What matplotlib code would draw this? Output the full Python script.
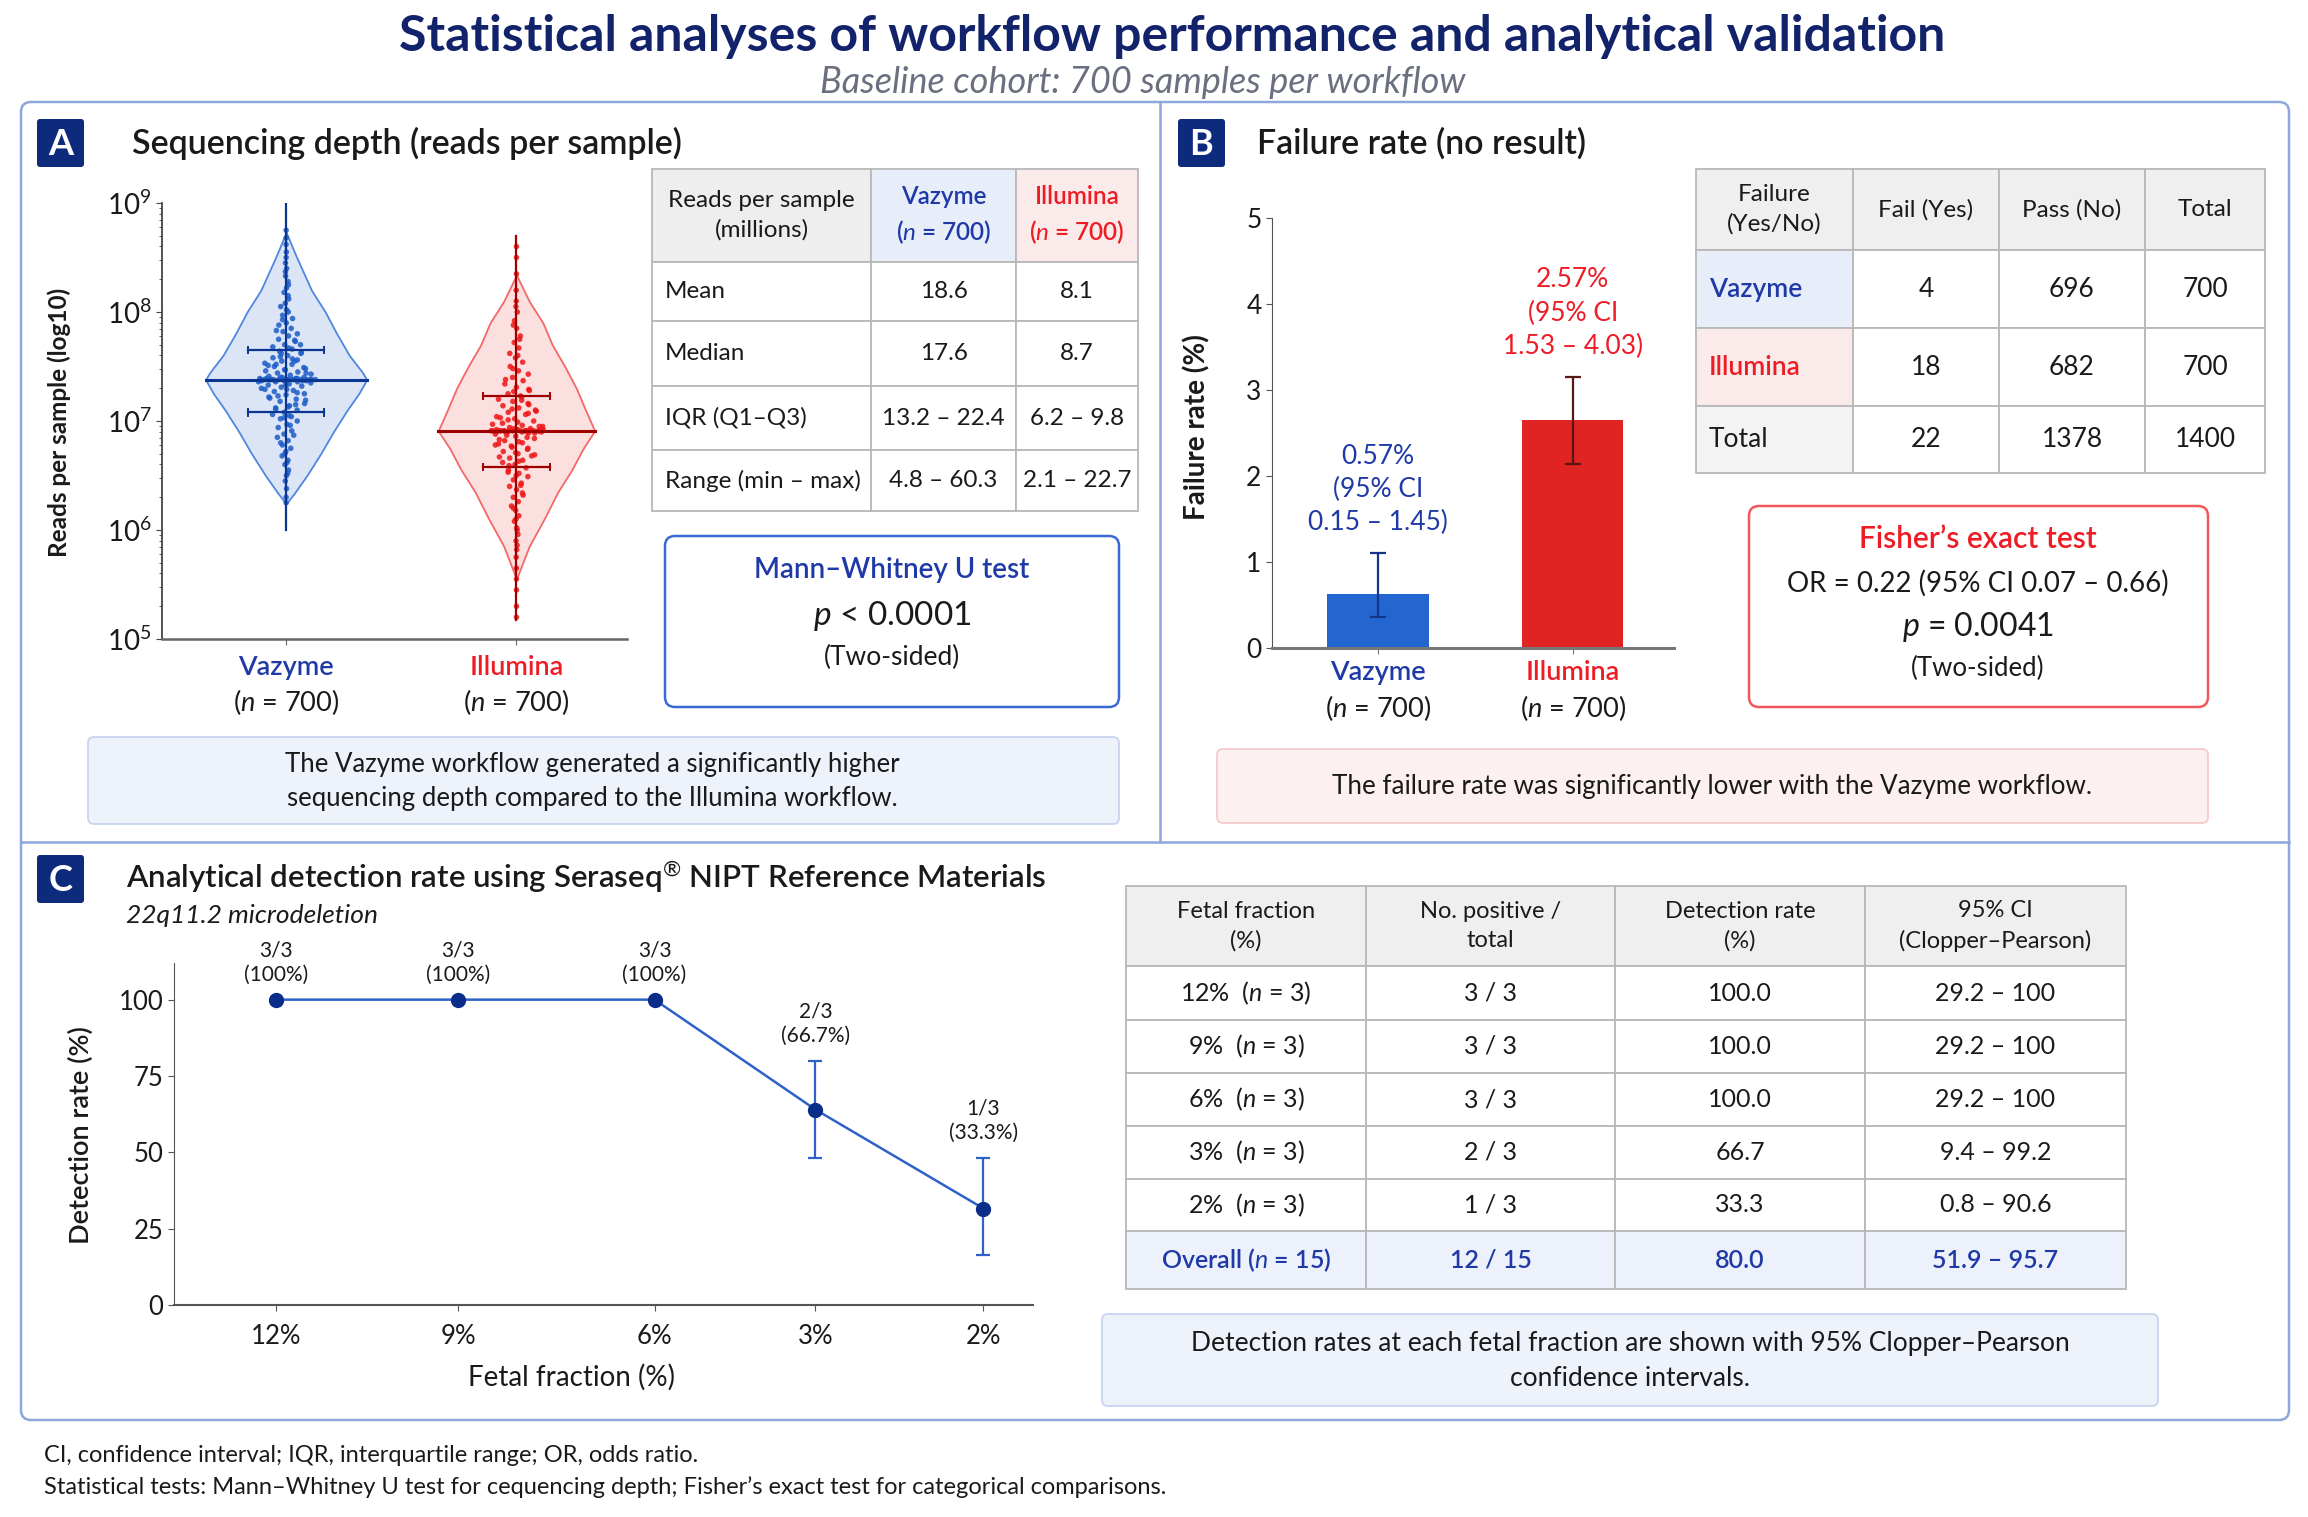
import numpy as np
import matplotlib
matplotlib.use("Agg")
import matplotlib.pyplot as plt
from matplotlib.patches import FancyBboxPatch, Rectangle
from matplotlib.ticker import LogLocator, NullFormatter

plt.rcParams['font.family'] = ['Lato', 'DejaVu Sans']
plt.rcParams['mathtext.fontset'] = 'custom'
plt.rcParams['mathtext.rm'] = 'Lato'
plt.rcParams['mathtext.it'] = 'Lato:italic'
plt.rcParams['mathtext.bf'] = 'Lato:bold'

# ---------------- DATA ----------------
groups = ["Vazyme", "Illumina"]
n_per_group = [700, 700]

# Panel A (log10 reads per sample)
median_log = [7.38, 6.91]
q1_log = [7.08, 6.58]
q3_log = [7.65, 7.23]
whisk_lo_log = [6.0, 5.17]
whisk_hi_log = [9.0, 8.70]
vaz_prof_log = [6.24, 6.35, 6.5, 6.7, 6.9, 7.1, 7.25, 7.38, 7.45, 7.6, 7.8, 8.0, 8.2, 8.5, 8.73]
vaz_prof_hw = [0.0, 0.04, 0.09, 0.15, 0.205, 0.265, 0.315, 0.35, 0.33, 0.275, 0.22, 0.17, 0.11, 0.046, 0.0]
ill_prof_log = [5.55, 5.85, 6.1, 6.35, 6.55, 6.75, 6.91, 7.1, 7.3, 7.5, 7.7, 7.9, 8.1, 8.34]
ill_prof_hw = [0.0, 0.055, 0.12, 0.18, 0.24, 0.29, 0.34, 0.30, 0.26, 0.21, 0.155, 0.115, 0.055, 0.0]
vaz_points_log = [8.75, 8.68, 8.62, 8.55, 8.5, 8.45, 8.4, 8.33, 8.28, 8.22, 8.18, 8.12, 8.08, 8.05,
                  8.0, 7.97, 7.94, 7.9, 7.88, 7.85, 7.82, 7.8, 7.78, 7.75, 7.73, 7.7, 7.68, 7.66,
                  7.64, 7.62, 7.6, 7.58, 7.56, 7.55, 7.53, 7.52, 7.5, 7.49, 7.47, 7.46, 7.45, 7.44,
                  7.43, 7.42, 7.41, 7.40, 7.40, 7.39, 7.39, 7.38, 7.38, 7.38, 7.38, 7.38, 7.38, 7.38,
                  7.38, 7.38, 7.37, 7.37, 7.37, 7.36, 7.36, 7.35, 7.34, 7.33, 7.32, 7.31, 7.3, 7.28,
                  7.27, 7.25, 7.24, 7.22, 7.2, 7.18, 7.16, 7.14, 7.12, 7.1, 7.08, 7.06, 7.04, 7.02,
                  7.0, 6.97, 6.94, 6.91, 6.88, 6.85, 6.82, 6.78, 6.75, 6.72, 6.68, 6.64, 6.6, 6.55,
                  6.5, 6.45, 6.38, 6.3, 6.25, 7.57, 7.52, 7.48, 7.29, 7.21, 7.15, 7.62, 7.7, 7.05,
                  7.38, 7.38, 7.38, 7.38, 7.39, 7.37, 7.38, 7.38, 7.39, 7.37, 7.40, 7.36, 7.38, 7.38,
                  7.44, 7.33, 7.51, 7.26, 7.59, 7.19, 7.67, 7.11, 7.74, 7.03, 7.83, 6.96, 7.93, 6.87,
                  8.02, 6.8, 8.15, 6.7, 8.25, 6.62, 8.37, 6.52, 7.47, 7.29, 7.55, 7.23, 7.63, 7.13]
ill_points_log = [5.2, 5.3, 5.45, 5.55, 5.65, 5.75, 5.82, 5.9, 5.96, 6.02, 6.08, 6.13, 6.18, 6.22,
                  6.26, 6.3, 6.34, 6.37, 6.4, 6.43, 6.46, 6.49, 6.52, 6.55, 6.57, 6.6, 6.62, 6.64,
                  6.66, 6.68, 6.7, 6.72, 6.74, 6.76, 6.78, 6.8, 6.82, 6.84, 6.86, 6.88, 6.89, 6.9,
                  6.9, 6.91, 6.91, 6.91, 6.91, 6.91, 6.91, 6.91, 6.91, 6.92, 6.92, 6.93, 6.94, 6.95,
                  6.96, 6.98, 7.0, 7.02, 7.04, 7.06, 7.08, 7.1, 7.12, 7.14, 7.16, 7.18, 7.2, 7.22,
                  7.25, 7.28, 7.31, 7.34, 7.37, 7.4, 7.43, 7.46, 7.5, 7.54, 7.58, 7.62, 7.67, 7.72,
                  7.78, 7.85, 7.92, 8.0, 8.1, 8.2, 8.35, 8.5, 8.6, 6.71, 6.79, 6.85, 7.01, 7.09,
                  6.63, 6.53, 7.15, 7.27, 6.97, 6.91, 6.91, 6.91, 6.92, 6.90, 6.91, 6.91, 6.92, 6.90,
                  6.91, 6.89, 6.93, 6.91, 6.91, 6.87, 6.95, 6.81, 7.03, 6.75, 7.11, 6.67, 7.19, 6.59,
                  7.29, 6.5, 7.38, 6.41, 7.48, 6.32, 7.6, 6.2, 7.75, 6.1, 7.88, 6.0, 8.05, 5.86,
                  6.99, 6.83, 7.07, 6.77, 6.69, 7.23]
stat_names = ["Mean", "Median", "IQR (Q1\u2013Q3)", "Range (min \u2013 max)"]
vaz_stats = ["18.6", "17.6", "13.2 \u2013 22.4", "4.8 \u2013 60.3"]
ill_stats = ["8.1", "8.7", "6.2 \u2013 9.8", "2.1 \u2013 22.7"]

# Panel B
fail_counts = [4, 18]
pass_counts = [696, 682]
fail_rate_plot = [0.63, 2.65]
fail_ci_lo = [0.36, 2.14]
fail_ci_hi = [1.10, 3.15]
fail_pct_txt = ["0.57%", "2.57%"]
fail_ci_txt = ["0.15 \u2013 1.45", "1.53 \u2013 4.03"]

# Panel C
ff_labels = ["12%", "9%", "6%", "3%", "2%"]
n_pos = [3, 3, 3, 2, 1]
n_tot = [3, 3, 3, 3, 3]
det_rate_txt = ["100.0", "100.0", "100.0", "66.7", "33.3"]
det_label_pct = ["100%", "100%", "100%", "66.7%", "33.3%"]
ci_txt = ["29.2 \u2013 100", "29.2 \u2013 100", "29.2 \u2013 100", "9.4 \u2013 99.2", "0.8 \u2013 90.6"]
det_rate_plot = [100, 100, 100, 64.0, 31.6]
det_ci_lo_plot = [100, 100, 100, 48.2, 16.4]
det_ci_hi_plot = [100, 100, 100, 80.0, 48.2]
overall_row = ["Overall ($\\it{n}$ = 15)", "12 / 15", "80.0", "51.9 \u2013 95.7"]

# ---------------- STYLE ----------------
NAVY = '#12236b'
BLUE_T = '#1f3aa6'
RED_T = '#ee1c25'
FRAME = '#8ea7dc'
DARK = '#1a1a1a'
W, H = 2308, 1517

fig = plt.figure(figsize=(W / 100, H / 100), dpi=100)
fig.patch.set_facecolor('white')
bg = fig.add_axes([0, 0, 1, 1])
bg.set_xlim(0, W)
bg.set_ylim(H, 0)
bg.axis('off')


def px_axes(l, t, r, b):
    return fig.add_axes([l / W, 1 - b / H, (r - l) / W, (b - t) / H])


def rbox(x0, y0, x1, y1, fc, ec, lw=1.5, r=10, z=1):
    bg.add_patch(FancyBboxPatch((x0, y0), x1 - x0, y1 - y0,
                                boxstyle=f"round,pad=0,rounding_size={r}",
                                facecolor=fc, edgecolor=ec, lw=lw, zorder=z))


def table(xs, ys, cells, fills, colors, weights, aligns, fs, hfs):
    for r in range(len(ys) - 1):
        for c in range(len(xs) - 1):
            bg.add_patch(Rectangle((xs[c], ys[r]), xs[c + 1] - xs[c], ys[r + 1] - ys[r],
                                   facecolor=fills[r][c], edgecolor='#b8b8b8', lw=1.3, zorder=2))
            ha = aligns[r][c]
            x = (xs[c] + xs[c + 1]) / 2 if ha == 'center' else xs[c] + 13
            bg.text(x, (ys[r] + ys[r + 1]) / 2, cells[r][c], ha=ha, va='center',
                    color=colors[r][c], fontsize=hfs if r == 0 else fs, fontweight=weights[r][c],
                    linespacing=1.45, zorder=3)


# ---------------- HEADER ----------------
bg.text(1172, 36, "Statistical analyses of workflow performance and analytical validation",
        ha='center', va='center', fontsize=36, fontweight='bold', color=NAVY)
bg.text(1143, 82, "Baseline cohort: 700 samples per workflow", ha='center', va='center',
        fontsize=26, style='italic', color='#6b7080')

# frame
rbox(21, 102, 2289, 1420, 'white', FRAME, lw=1.8, r=10, z=0)
bg.plot([1160, 1160], [102, 842], color=FRAME, lw=1.8, zorder=1)
bg.plot([21, 2289], [842, 842], color=FRAME, lw=1.8, zorder=1)

# panel letters
for (x0, y0, letter) in [(37, 119, "A"), (1178, 119, "B"), (37, 855, "C")]:
    bg.add_patch(FancyBboxPatch((x0, y0), 47, 48, boxstyle="round,pad=0,rounding_size=3",
                                facecolor='#0d2a7d', edgecolor='none', zorder=2))
    bg.text(x0 + 23.5, y0 + 25, letter, ha='center', va='center', color='white',
            fontsize=26, fontweight='bold', zorder=3)

bg.text(132, 143, "Sequencing depth (reads per sample)", ha='left', va='center',
        fontsize=24.5, fontweight='semibold', color=DARK)
bg.text(1257, 143, "Failure rate (no result)", ha='left', va='center',
        fontsize=24.5, fontweight='semibold', color=DARK)
bg.text(126, 877, "Analytical detection rate using Seraseq$^{\u00ae}$ NIPT Reference Materials",
        ha='left', va='center', fontsize=22.5, fontweight='semibold', color=DARK)
bg.text(126, 915, "22q11.2 microdeletion", ha='left', va='center', fontsize=19,
        style='italic', color=DARK)

# ---------------- PANEL A ----------------
axA = px_axes(162, 203, 627, 639)
axA.set_yscale('log')
axA.set_ylim(1e5, 1e9)
axA.set_xlim(-0.539, 1.48)
profiles = [(vaz_prof_log, vaz_prof_hw), (ill_prof_log, ill_prof_hw)]
points = [vaz_points_log, ill_points_log]
fills = ['#d7e3f6', '#fcdcdc']
edges = ['#3f7bdc', '#f25a5a']
pcols = ['#1d5cc8', '#ee1515']
lcols = ['#0a3590', '#9e0000']
iqr_hw = [0.165, 0.145]
for i in range(2):
    pl, ph = profiles[i]
    yy = np.linspace(pl[0], pl[-1], 200)
    hw = np.interp(yy, pl, ph)
    axA.fill_betweenx(10 ** yy, i - hw, i + hw, facecolor=fills[i], edgecolor=edges[i],
                      lw=1.3, alpha=0.9, zorder=1)
    vals = np.array(points[i])
    hwp = np.interp(vals, pl, ph)
    u = ((np.arange(len(vals)) * 0.6180339887) % 1.0) * 2 - 1
    axA.scatter(i + u * hwp ** 2 * 1.05, 10 ** vals, s=16, color=pcols[i], alpha=0.85,
                edgecolors='none', zorder=3)
    axA.plot([i, i], [10 ** whisk_lo_log[i], 10 ** whisk_hi_log[i]], color=lcols[i], lw=1.6, zorder=4)
    mh = np.interp(median_log[i], pl, ph)
    axA.plot([i - mh, i + mh], [10 ** median_log[i]] * 2, color=lcols[i], lw=2.2, zorder=4)
    for q in (q1_log[i], q3_log[i]):
        axA.plot([i - iqr_hw[i], i + iqr_hw[i]], [10 ** q] * 2, color=lcols[i], lw=1.6, zorder=4)
        for s in (-1, 1):
            axA.plot([i + s * iqr_hw[i]] * 2, [10 ** (q - 0.03), 10 ** (q + 0.03)],
                     color=lcols[i], lw=1.4, zorder=4)
for sp in ('top', 'right'):
    axA.spines[sp].set_visible(False)
axA.spines['left'].set_color('#444444')
axA.spines['bottom'].set_color('#666666')
axA.spines['left'].set_linewidth(1.3)
axA.spines['bottom'].set_linewidth(1.8)
axA.yaxis.set_major_locator(LogLocator(base=10, numticks=10))
axA.yaxis.set_minor_locator(LogLocator(base=10, subs=np.arange(2, 10), numticks=10))
axA.yaxis.set_minor_formatter(NullFormatter())
axA.tick_params(axis='y', which='major', labelsize=20, length=4, color='#444444', labelcolor=DARK)
axA.tick_params(axis='y', which='minor', length=2.5, color='#444444')
axA.set_xticks([0, 1])
axA.set_xticklabels([])
axA.tick_params(axis='x', length=4, color='#666666')
axA.patch.set_alpha(0)
bg.text(59, 422, "Reads per sample (log10)", rotation=90, ha='center', va='center',
        fontsize=17.5, fontweight='bold', color=DARK)
gcols = [BLUE_T, RED_T]
for i, g in enumerate(groups):
    axA.annotate(g, xy=(i, 0), xycoords=('data', 'axes fraction'), xytext=(0, -28),
                 textcoords='offset pixels', ha='center', va='center', fontsize=19.5,
                 fontweight='semibold', color=gcols[i])
    axA.annotate(f"($\\it{{n}}$ = {n_per_group[i]})", xy=(i, 0), xycoords=('data', 'axes fraction'),
                 xytext=(0, -63), textcoords='offset pixels', ha='center', va='center',
                 fontsize=19.5, color=DARK)

# table A
xsA = [652, 871, 1016, 1138]
ysA = [169, 262, 321, 386, 450, 511]
cellsA = [["Reads per sample\n(millions)", f"Vazyme\n($\\it{{n}}$ = {n_per_group[0]})",
           f"Illumina\n($\\it{{n}}$ = {n_per_group[1]})"]]
for k in range(4):
    cellsA.append([stat_names[k], vaz_stats[k], ill_stats[k]])
fillsA = [['#eeeeee', '#e8eef9', '#fbeaea']] + [['white'] * 3] * 4
colorsA = [[DARK, BLUE_T, RED_T]] + [[DARK] * 3] * 4
weightsA = [['normal', 'semibold', 'semibold']] + [['normal'] * 3] * 4
alignsA = [['center'] * 3] + [['left', 'center', 'center']] * 4
table(xsA, ysA, cellsA, fillsA, colorsA, weightsA, alignsA, 17.5, 17.5)

# Mann-Whitney box
rbox(665, 536, 1119, 707, 'white', '#3b6ad6', lw=1.8, r=10, z=2)
bg.text(892, 570, "Mann\u2013Whitney U test", ha='center', va='center', fontsize=20,
        fontweight='semibold', color=BLUE_T, zorder=3)
bg.text(892, 616, "$\\it{p}$ < 0.0001", ha='center', va='center', fontsize=24, color=DARK, zorder=3)
bg.text(892, 657, "(Two-sided)", ha='center', va='center', fontsize=19, color=DARK, zorder=3)

# caption A
rbox(88, 737, 1119, 824, '#eef2fb', '#c8d5ef', lw=1.3, r=6, z=2)
bg.text(592, 781, "The Vazyme workflow generated a significantly higher\nsequencing depth compared to the Illumina workflow.",
        ha='center', va='center', fontsize=18.5, color=DARK, linespacing=1.45, zorder=3)

# ---------------- PANEL B ----------------
axB = px_axes(1272, 218, 1674, 648)
xB = np.arange(2)
bcols = ['#2366cf', '#e02323']
ecols = ['#16358a', '#5a1515']
for i in range(2):
    axB.bar(xB[i], fail_rate_plot[i], width=0.52, color=bcols[i], zorder=2)
    axB.errorbar(xB[i], fail_rate_plot[i],
                 yerr=[[fail_rate_plot[i] - fail_ci_lo[i]], [fail_ci_hi[i] - fail_rate_plot[i]]],
                 fmt='none', ecolor=ecols[i], elinewidth=1.6, capsize=6, capthick=1.6, zorder=3)
    axB.annotate(f"{fail_pct_txt[i]}\n(95% CI\n{fail_ci_txt[i]})", xy=(xB[i], fail_ci_hi[i]),
                 xytext=(0, 64), textcoords='offset pixels', ha='center', va='center',
                 fontsize=19, color=[BLUE_T, RED_T][i], linespacing=1.4)
    axB.annotate(groups[i], xy=(xB[i], 0), xycoords=('data', 'axes fraction'), xytext=(0, -25),
                 textcoords='offset pixels', ha='center', va='center', fontsize=19.5,
                 fontweight='semibold', color=gcols[i])
    axB.annotate(f"($\\it{{n}}$ = {n_per_group[i]})", xy=(xB[i], 0), xycoords=('data', 'axes fraction'),
                 xytext=(0, -60), textcoords='offset pixels', ha='center', va='center',
                 fontsize=19.5, color=DARK)
axB.set_xlim(-0.545, 1.52)
axB.set_ylim(0, 5)
axB.set_yticks(range(6))
axB.set_xticks(xB)
axB.set_xticklabels([])
for sp in ('top', 'right'):
    axB.spines[sp].set_visible(False)
axB.spines['left'].set_color('#555555')
axB.spines['bottom'].set_color('#777777')
axB.spines['bottom'].set_linewidth(2.2)
axB.tick_params(axis='y', labelsize=19, length=4, color='#555555', labelcolor=DARK)
axB.tick_params(axis='x', length=4, color='#777777')
axB.patch.set_alpha(0)
bg.text(1197, 427, "Failure rate (%)", rotation=90, ha='center', va='center',
        fontsize=20, fontweight='bold', color=DARK)

# table B
xsB = [1696, 1853, 1999, 2145, 2265]
ysB = [169, 250, 328, 406, 473]
cellsB = [["Failure\n(Yes/No)", "Fail (Yes)", "Pass (No)", "Total"]]
for i in range(2):
    cellsB.append([groups[i], str(fail_counts[i]), str(pass_counts[i]),
                   str(fail_counts[i] + pass_counts[i])])
cellsB.append(["Total", str(sum(fail_counts)), str(sum(pass_counts)),
               str(sum(fail_counts) + sum(pass_counts))])
fillsB = [['#efefef'] * 4, ['#e8eef9', 'white', 'white', 'white'],
          ['#fbeaea', 'white', 'white', 'white'], ['#f3f3f3', 'white', 'white', 'white']]
colorsB = [[DARK] * 4, [BLUE_T, DARK, DARK, DARK], [RED_T, DARK, DARK, DARK], [DARK] * 4]
weightsB = [['normal'] * 4, ['semibold', 'normal', 'normal', 'normal'],
            ['semibold', 'normal', 'normal', 'normal'], ['normal'] * 4]
alignsB = [['center'] * 4] + [['left', 'center', 'center', 'center']] * 3
table(xsB, ysB, cellsB, fillsB, colorsB, weightsB, alignsB, 19, 17.5)

# Fisher box
rbox(1749, 506, 2208, 707, 'white', '#f0585c', lw=1.8, r=10, z=2)
bg.text(1978, 539, "Fisher\u2019s exact test", ha='center', va='center', fontsize=21.5,
        fontweight='semibold', color=RED_T, zorder=3)
bg.text(1978, 583, "OR = 0.22 (95% CI 0.07 \u2013 0.66)", ha='center', va='center', fontsize=20,
        color=DARK, zorder=3)
bg.text(1978, 627, "$\\it{p}$ = 0.0041", ha='center', va='center', fontsize=23, color=DARK, zorder=3)
bg.text(1978, 668, "(Two-sided)", ha='center', va='center', fontsize=18.5, color=DARK, zorder=3)

# caption B
rbox(1217, 749, 2208, 823, '#fdf0f0', '#f4caca', lw=1.3, r=6, z=2)
bg.text(1712, 786, "The failure rate was significantly lower with the Vazyme workflow.",
        ha='center', va='center', fontsize=18.7, color=DARK, zorder=3)

# ---------------- PANEL C ----------------
axC = px_axes(174, 963, 1033, 1305)
x_slot = [0, 1.03, 2.14, 3.05, 4.0]
lo = np.array(det_rate_plot) - np.array(det_ci_lo_plot)
hi = np.array(det_ci_hi_plot) - np.array(det_rate_plot)
axC.errorbar(x_slot[3:], det_rate_plot[3:], yerr=[lo[3:], hi[3:]], fmt='none',
             ecolor='#2f62c9', elinewidth=1.6, capsize=5, capthick=1.6, zorder=2)
axC.plot(x_slot, det_rate_plot, color='#2f62c9', lw=1.8, zorder=3)
axC.plot(x_slot, det_rate_plot, 'o', ms=10, color='#0b2d8a', zorder=4)
for i in range(5):
    axC.annotate(f"{n_pos[i]}/{n_tot[i]}\n({det_label_pct[i]})",
                 xy=(x_slot[i], max(det_rate_plot[i], det_ci_hi_plot[i])), xytext=(0, 37),
                 textcoords='offset pixels', ha='center', va='center', fontsize=15,
                 color=DARK, linespacing=1.3)
axC.set_xlim(-0.577, 4.28)
axC.set_ylim(0, 112)
axC.set_yticks([0, 25, 50, 75, 100])
axC.set_xticks(x_slot)
axC.set_xticklabels(ff_labels)
for sp in ('top', 'right'):
    axC.spines[sp].set_visible(False)
axC.spines['left'].set_color('#555555')
axC.spines['bottom'].set_color('#555555')
axC.spines['bottom'].set_linewidth(1.5)
axC.tick_params(labelsize=18.5, length=4, color='#555555', labelcolor=DARK)
axC.tick_params(axis='x', pad=10)
axC.patch.set_alpha(0)
bg.text(81, 1135, "Detection rate (%)", rotation=90, ha='center', va='center',
        fontsize=19.5, fontweight='semibold', color=DARK)
bg.text(571, 1377, "Fetal fraction (%)", ha='center', va='center', fontsize=20, color=DARK)

# table C
xsC = [1126, 1366, 1615, 1865, 2126]
ysC = [886, 966, 1020, 1073, 1126, 1179, 1231, 1289]
cellsC = [["Fetal fraction\n(%)", "No. positive /\ntotal", "Detection rate\n(%)", "95% CI\n(Clopper\u2013Pearson)"]]
for i in range(5):
    cellsC.append([f"{ff_labels[i]}  ($\\it{{n}}$ = {n_tot[i]})", f"{n_pos[i]} / {n_tot[i]}",
                   det_rate_txt[i], ci_txt[i]])
cellsC.append(overall_row)
fillsC = [['#efefef'] * 4] + [['white'] * 4] * 5 + [['#edf1fb'] * 4]
colorsC = [[DARK] * 4] * 6 + [[BLUE_T] * 4]
weightsC = [['normal'] * 4] * 6 + [['semibold'] * 4]
alignsC = [['center'] * 4] * 7
table(xsC, ysC, cellsC, fillsC, colorsC, weightsC, alignsC, 18, 17)

# caption C
rbox(1102, 1314, 2158, 1406, '#eef2fb', '#c8d5ef', lw=1.3, r=6, z=2)
bg.text(1630, 1361, "Detection rates at each fetal fraction are shown with 95% Clopper\u2013Pearson\nconfidence intervals.",
        ha='center', va='center', fontsize=19, color=DARK, linespacing=1.45, zorder=3)

# footer
bg.text(44, 1456, "CI, confidence interval; IQR, interquartile range; OR, odds ratio.",
        ha='left', va='center', fontsize=17, color=DARK)
bg.text(44, 1487, "Statistical tests: Mann\u2013Whitney U test for cequencing depth; Fisher\u2019s exact test for categorical comparisons.",
        ha='left', va='center', fontsize=17, color=DARK)

fig.savefig("out.png", dpi=100, facecolor='white')
